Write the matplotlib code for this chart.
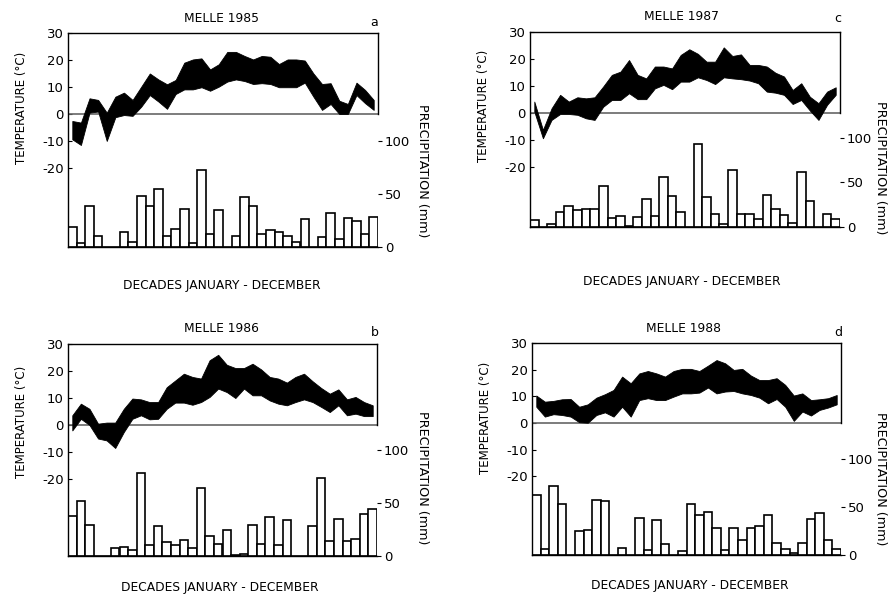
import matplotlib
matplotlib.use("Agg")
from matplotlib import pyplot as plt
import numpy as np

plt.rcParams["axes.unicode_minus"] = False

# --- data: 36 decades per year, temperature band (max/min, degC) and rain (mm)
decades = np.arange(36)

tmax_1985 = [-2.6, -3.2, 5.8, 5.2, 0.5, 6.4, 7.9, 5.2, 10.1, 15.0, 12.8, 11.0,
             12.6, 19.0, 20.2, 20.6, 16.5, 18.4, 23.0, 23.0, 21.5, 20.2, 21.5, 21.2,
             18.5, 20.2, 20.2, 19.8, 15.0, 11.1, 11.4, 4.9, 3.7, 11.6, 8.9, 5.2]
tmin_1985 = [-9.4, -11.5, 0.5, 0.9, -10.0, -1.2, -0.4, -0.7, 2.7, 7.0, 4.6, 1.9,
             7.4, 9.1, 9.1, 9.9, 8.6, 10.1, 12.0, 12.8, 12.2, 11.1, 11.4, 11.1,
             9.9, 9.9, 9.9, 11.6, 6.4, 1.5, 3.7, 0.0, 0.0, 7.0, 4.0, 1.5]
rain_1985 = [19, 3.5, 38.7, 10.4, 0, 0, 14.5, 5, 48, 38.7, 54.7, 10.4,
             16.7, 35.8, 4.1, 72.6, 12, 34.9, 0, 10.4, 46.9, 38.7, 12.3, 16,
             14.5, 10.4, 4.4, 26.7, 0, 9.1, 31.8, 7.5, 27.7, 24.5, 12.3, 28]

tmax_1986 = [3.6, 7.9, 6.0, 0.5, 0.9, 0.9, 6.0, 9.8, 9.5, 8.5, 8.5, 14.0,
             16.5, 19.0, 17.8, 17.2, 24.0, 26.0, 22.3, 21.1, 21.1, 22.7, 20.6, 17.8,
             17.2, 15.7, 17.8, 19.0, 16.2, 13.7, 11.6, 13.2, 9.5, 10.4, 8.5, 7.3]
tmin_1986 = [-2.0, 2.3, 0.0, -5.0, -5.7, -8.5, -2.6, 2.3, 3.6, 2.1, 2.3, 6.0,
             8.3, 8.3, 7.5, 8.5, 10.4, 13.5, 12.2, 10.0, 13.5, 11.0, 11.0, 9.1,
             7.9, 7.3, 8.5, 9.5, 8.5, 6.7, 4.8, 7.3, 3.6, 4.2, 3.3, 3.3]
rain_1986 = [38, 52, 29, 0, 0, 7.2, 8.8, 5.7, 78, 10.4, 28.3, 12.9,
             10.4, 15.1, 7.2, 63.8, 18.9, 11.3, 24.5, 1, 2.2, 29.2, 11, 36.5,
             10.4, 34, 0, 0, 28.3, 73.9, 14.2, 34.9, 14.2, 16, 39.3, 44]

tmax_1987 = [4.2, -6.3, 1.7, 6.7, 4.2, 5.8, 5.4, 5.8, 9.8, 14.1, 15.3, 19.6,
             14.1, 12.8, 17.2, 17.2, 16.5, 21.5, 23.6, 21.9, 19.0, 19.0, 24.3, 21.1,
             21.7, 17.8, 17.8, 17.2, 14.9, 13.5, 8.5, 11.0, 6.0, 3.6, 7.9, 9.5]
tmin_1987 = [0.5, -9.4, -2.6, -0.4, -0.4, -0.7, -2.0, -2.6, 2.3, 4.8, 4.8, 7.3,
             5.1, 5.1, 9.1, 10.4, 8.8, 11.6, 11.6, 13.2, 12.2, 10.7, 13.2, 12.8,
             12.5, 12.0, 11.0, 7.9, 7.5, 6.7, 3.3, 4.8, 0.9, -2.6, 3.0, 6.7]
rain_1987 = [8, 0, 3.7, 16.7, 23, 19.3, 20.4, 20.4, 46, 10, 11.9, 1.5,
             11.2, 31.6, 12.6, 55.4, 34.2, 17.1, 0, 93, 33, 14.9, 3.7, 64,
             14.5, 14.5, 9.3, 35.3, 20.4, 13.8, 4.5, 62, 28.6, 0, 14.5, 9.3]

tmax_1988 = [10.3, 8.0, 8.3, 8.9, 9.0, 6.1, 7.0, 9.5, 10.8, 12.4, 17.4, 14.9,
             18.6, 19.5, 18.6, 17.4, 19.5, 20.3, 20.3, 19.5, 21.5, 23.6, 22.4, 19.9,
             20.3, 17.8, 16.1, 16.1, 16.8, 14.3, 10.3, 11.1, 8.6, 8.9, 9.3, 10.5]
tmin_1988 = [6.1, 2.4, 3.3, 3.0, 2.4, 0.3, 0.1, 3.0, 4.0, 2.4, 6.1, 2.4,
             8.6, 9.3, 8.6, 8.6, 9.9, 11.1, 11.1, 11.4, 13.3, 11.1, 11.8, 12.0,
             11.1, 10.5, 9.5, 7.4, 9.0, 6.1, 0.8, 4.3, 2.8, 4.9, 5.8, 7.0]
rain_1988 = [62.8, 6.6, 71.5, 53.5, 0, 24.7, 26.4, 57.6, 55.9, 0, 7.3, 0,
             38.9, 4.9, 36.8, 11.8, 0, 3.8, 52.8, 41.3, 44.8, 28.1, 4.9, 28.1,
             15.3, 28.1, 29.9, 42, 12.5, 5.9, 2.4, 12.5, 37.2, 43.8, 15.3, 5.9]

W, H = 890, 598

# layout in pixels: box = (left, right, top, bottom), lower temp limit, upper rain limit
panels = [
    dict(title="MELLE 1985", letter="a", tmax=tmax_1985, tmin=tmin_1985, rain=rain_1985,
         box=(68, 378, 33, 247), tlow=-49.3, rtop=202,
         title_xy=(221, 18), letter_xy=(374, 22), ylab_xy=(22, 108), rlab_xy=(422, 171), xlab_xy=(222, 285)),
    dict(title="MELLE 1987", letter="c", tmax=tmax_1987, tmin=tmin_1987, rain=rain_1987,
         box=(530, 840, 32, 227), tlow=-42.3, rtop=218,
         title_xy=(681, 16), letter_xy=(838, 19), ylab_xy=(483, 106), rlab_xy=(880, 168), xlab_xy=(682, 282)),
    dict(title="MELLE 1986", letter="b", tmax=tmax_1986, tmin=tmin_1986, rain=rain_1986,
         box=(68, 377, 344, 556), tlow=-48.5, rtop=200,
         title_xy=(221, 328), letter_xy=(375, 333), ylab_xy=(22, 422), rlab_xy=(422, 478), xlab_xy=(220, 588)),
    dict(title="MELLE 1988", letter="d", tmax=tmax_1988, tmin=tmin_1988, rain=rain_1988,
         box=(532, 841, 343, 555), tlow=-49.5, rtop=221,
         title_xy=(684, 329), letter_xy=(838, 332), ylab_xy=(485, 418), rlab_xy=(880, 479), xlab_xy=(690, 586)),
]


def fpos(x, y):
    return x / W, 1 - y / H


fig = plt.figure(figsize=(W / 100, H / 100), dpi=100)

for p in panels:
    l, r, t, b = p["box"]
    ax = fig.add_axes([l / W, 1 - b / H, (r - l) / W, (b - t) / H])
    ax2 = ax.twinx()

    # precipitation bars
    ax2.bar(decades, p["rain"], width=1.0, color="white", edgecolor="black", linewidth=1.2)
    ax2.set_ylim(0, p["rtop"])
    ax2.set_yticks([0, 50, 100])
    ax2.tick_params(axis="y", direction="out", length=3, labelsize=9.5, pad=2)
    for s in ax2.spines.values():
        s.set_visible(False)

    # temperature band
    ax.fill_between(decades, p["tmin"], p["tmax"], color="black", linewidth=0.6, zorder=3)
    ax.axhline(0, color="0.4", linewidth=1.2, zorder=2)
    ax.set_ylim(p["tlow"], 30)
    ax.set_xlim(-0.5, 35.5)
    ax.set_yticks([30, 20, 10, 0, -10, -20])
    ax.tick_params(axis="y", direction="in", length=3, labelsize=9.5, pad=3)
    ax.set_xticks([])
    ax.spines["right"].set_bounds(0, 30)
    for s in ax.spines.values():
        s.set_linewidth(1.0)
    ax.set_zorder(ax2.get_zorder() + 1)
    ax.patch.set_visible(False)

    fig.text(*fpos(*p["title_xy"]), p["title"], ha="center", va="center", fontsize=8.8)
    fig.text(*fpos(*p["letter_xy"]), p["letter"], ha="center", va="center", fontsize=9)
    fig.text(*fpos(*p["ylab_xy"]), "TEMPERATURE (°C)", rotation=90, ha="center", va="center", fontsize=8.5)
    fig.text(*fpos(*p["rlab_xy"]), "PRECIPITATION (mm)", rotation=270, ha="center", va="center", fontsize=9.2)
    fig.text(*fpos(*p["xlab_xy"]), "DECADES JANUARY - DECEMBER", ha="center", va="center", fontsize=8.8)

fig.savefig("out.png", dpi=100)
